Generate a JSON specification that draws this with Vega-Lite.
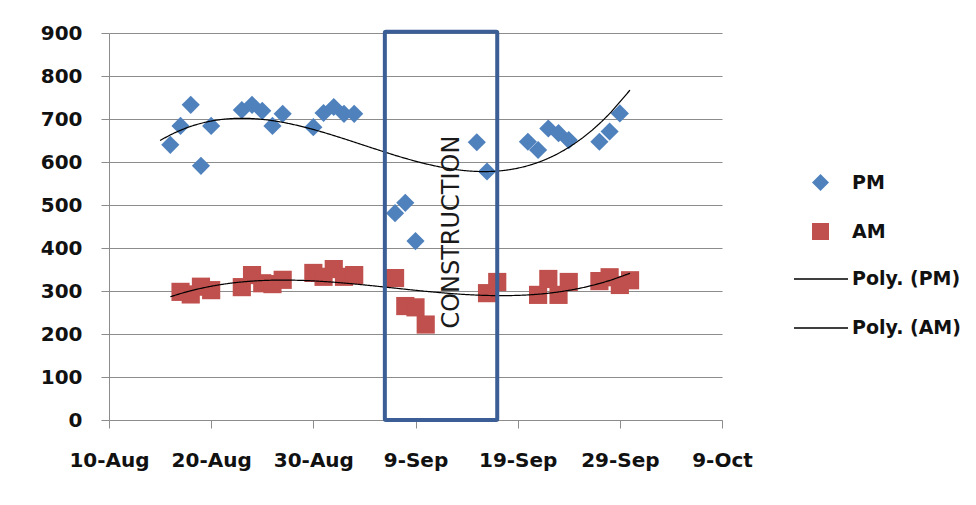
{
  "$schema": "https://vega.github.io/schema/vega-lite/v6.json",
  "width": 613,
  "height": 387,
  "autosize": "none",
  "padding": {"left": 109, "top": 33, "right": 254, "bottom": 85},
  "background": "white",
  "config": {
    "view": {"stroke": null},
    "font": "DejaVu Sans",
    "axis": {
      "labelFont": "DejaVu Sans",
      "labelFontSize": 20,
      "labelFontWeight": "bold",
      "labelColor": "#111111",
      "domainColor": "#8c8c8c",
      "tickColor": "#8c8c8c",
      "gridColor": "#8c8c8c",
      "tickSize": 8,
      "domainWidth": 1,
      "gridWidth": 1,
      "labelOverlap": false,
      "labelBound": false,
      "labelFlush": false
    },
    "legend": {
      "labelFont": "DejaVu Sans",
      "labelFontSize": 19,
      "labelFontWeight": "bold",
      "labelColor": "#111111",
      "padding": 0
    }
  },
  "data": {
    "values": [
      {"date": "2010-08-16", "value": 640, "series": "PM"},
      {"date": "2010-08-17", "value": 684, "series": "PM"},
      {"date": "2010-08-18", "value": 733, "series": "PM"},
      {"date": "2010-08-19", "value": 591, "series": "PM"},
      {"date": "2010-08-20", "value": 684, "series": "PM"},
      {"date": "2010-08-23", "value": 721, "series": "PM"},
      {"date": "2010-08-24", "value": 733, "series": "PM"},
      {"date": "2010-08-25", "value": 719, "series": "PM"},
      {"date": "2010-08-26", "value": 684, "series": "PM"},
      {"date": "2010-08-27", "value": 712, "series": "PM"},
      {"date": "2010-08-30", "value": 681, "series": "PM"},
      {"date": "2010-08-31", "value": 714, "series": "PM"},
      {"date": "2010-09-01", "value": 728, "series": "PM"},
      {"date": "2010-09-02", "value": 712, "series": "PM"},
      {"date": "2010-09-03", "value": 712, "series": "PM"},
      {"date": "2010-09-07", "value": 481, "series": "PM"},
      {"date": "2010-09-08", "value": 505, "series": "PM"},
      {"date": "2010-09-09", "value": 416, "series": "PM"},
      {"date": "2010-09-15", "value": 646, "series": "PM"},
      {"date": "2010-09-16", "value": 578, "series": "PM"},
      {"date": "2010-09-20", "value": 647, "series": "PM"},
      {"date": "2010-09-21", "value": 628, "series": "PM"},
      {"date": "2010-09-22", "value": 678, "series": "PM"},
      {"date": "2010-09-23", "value": 667, "series": "PM"},
      {"date": "2010-09-24", "value": 651, "series": "PM"},
      {"date": "2010-09-27", "value": 647, "series": "PM"},
      {"date": "2010-09-28", "value": 671, "series": "PM"},
      {"date": "2010-09-29", "value": 713, "series": "PM"},
      {"date": "2010-08-17", "value": 298, "series": "AM"},
      {"date": "2010-08-18", "value": 292, "series": "AM"},
      {"date": "2010-08-19", "value": 310, "series": "AM"},
      {"date": "2010-08-20", "value": 302, "series": "AM"},
      {"date": "2010-08-23", "value": 309, "series": "AM"},
      {"date": "2010-08-24", "value": 337, "series": "AM"},
      {"date": "2010-08-25", "value": 318, "series": "AM"},
      {"date": "2010-08-26", "value": 316, "series": "AM"},
      {"date": "2010-08-27", "value": 326, "series": "AM"},
      {"date": "2010-08-30", "value": 342, "series": "AM"},
      {"date": "2010-08-31", "value": 333, "series": "AM"},
      {"date": "2010-09-01", "value": 351, "series": "AM"},
      {"date": "2010-09-02", "value": 333, "series": "AM"},
      {"date": "2010-09-03", "value": 337, "series": "AM"},
      {"date": "2010-09-07", "value": 330, "series": "AM"},
      {"date": "2010-09-08", "value": 265, "series": "AM"},
      {"date": "2010-09-09", "value": 262, "series": "AM"},
      {"date": "2010-09-10", "value": 222, "series": "AM"},
      {"date": "2010-09-16", "value": 295, "series": "AM"},
      {"date": "2010-09-17", "value": 321, "series": "AM"},
      {"date": "2010-09-21", "value": 291, "series": "AM"},
      {"date": "2010-09-22", "value": 328, "series": "AM"},
      {"date": "2010-09-23", "value": 291, "series": "AM"},
      {"date": "2010-09-24", "value": 321, "series": "AM"},
      {"date": "2010-09-27", "value": 323, "series": "AM"},
      {"date": "2010-09-28", "value": 332, "series": "AM"},
      {"date": "2010-09-29", "value": 314, "series": "AM"},
      {"date": "2010-09-30", "value": 325, "series": "AM"}
    ],
    "format": {"parse": {"date": "utc:'%Y-%m-%d'"}}
  },
  "layer": [
    {
      "mark": {"type": "point", "filled": true, "opacity": 1, "size": 330},
      "encoding": {
        "x": {
          "field": "date", "type": "temporal", "title": null,
          "scale": {"type": "utc", "domain": [{"year": 2010, "month": 8, "date": 10, "utc": true}, {"year": 2010, "month": 10, "date": 9, "utc": true}]},
          "axis": {
            "grid": false,
            "format": "%-d-%b",
            "labelPadding": 22,
            "values": [
              {"year": 2010, "month": 8, "date": 10, "utc": true},
              {"year": 2010, "month": 8, "date": 20, "utc": true},
              {"year": 2010, "month": 8, "date": 30, "utc": true},
              {"year": 2010, "month": 9, "date": 9, "utc": true},
              {"year": 2010, "month": 9, "date": 19, "utc": true},
              {"year": 2010, "month": 9, "date": 29, "utc": true},
              {"year": 2010, "month": 10, "date": 9, "utc": true}
            ]
          }
        },
        "y": {
          "field": "value", "type": "quantitative", "title": null,
          "scale": {"domain": [0, 900], "nice": false},
          "axis": {"grid": true, "values": [0, 100, 200, 300, 400, 500, 600, 700, 800, 900], "labelPadding": 19}
        },
        "color": {
          "field": "series", "type": "nominal",
          "scale": {"domain": ["PM", "AM"], "range": ["#4F81BD", "#C0504D"]},
          "legend": {
            "title": null,
            "orient": "none",
            "legendX": 702,
            "legendY": 140,
            "symbolSize": 290,
            "symbolStrokeWidth": 0,
            "labelOffset": 22,
            "rowPadding": 29
          }
        },
        "shape": {
          "field": "series", "type": "nominal",
          "scale": {"domain": ["PM", "AM"], "range": ["diamond", "square"]}
        }
      }
    },
    {
      "transform": [
        {"filter": "datum.series === 'PM'"},
        {"regression": "value", "on": "date", "method": "poly", "order": 3, "extent": [1281830400000, 1285804800000]}
      ],
      "mark": {"type": "line", "color": "#000000", "strokeWidth": 1.2},
      "encoding": {
        "x": {"field": "date", "type": "temporal", "title": null},
        "y": {"field": "value", "type": "quantitative", "title": null},
        "strokeDash": {
          "datum": "Poly. (PM)",
          "scale": {"domain": ["Poly. (PM)", "Poly. (AM)"], "range": [[1, 0], [1, 0]]},
          "legend": {
            "title": null,
            "orient": "none",
            "legendX": 684,
            "legendY": 218,
            "symbolType": "stroke",
            "symbolSize": 2916,
            "symbolStrokeWidth": 1.3,
            "symbolStrokeColor": "#000000",
            "labelOffset": 3,
            "rowPadding": 11
          }
        }
      }
    },
    {
      "transform": [
        {"filter": "datum.series === 'AM'"},
        {"regression": "value", "on": "date", "method": "poly", "order": 3, "extent": [1281916800000, 1285804800000]}
      ],
      "mark": {"type": "line", "color": "#000000", "strokeWidth": 1.2},
      "encoding": {
        "x": {"field": "date", "type": "temporal", "title": null},
        "y": {"field": "value", "type": "quantitative", "title": null},
        "strokeDash": {"datum": "Poly. (AM)"}
      }
    },
    {
      "data": {"values": [{"start": "2010-09-06", "end": "2010-09-17", "low": 0, "high": 903}]},
      "mark": {"type": "rect", "fill": null, "fillOpacity": 0, "stroke": "#3A5E95", "strokeWidth": 4, "cornerRadius": 1},
      "encoding": {
        "x": {"field": "start", "type": "temporal", "title": null},
        "x2": {"field": "end"},
        "y": {"field": "low", "type": "quantitative", "title": null},
        "y2": {"field": "high"}
      }
    },
    {
      "data": {"values": [{"when": "2010-09-12T13:00:00Z", "level": 437, "label": "CONSTRUCTION"}]},
      "mark": {"type": "text", "angle": 270, "font": "DejaVu Sans", "fontSize": 24, "color": "#1a1a1a", "align": "center", "baseline": "middle"},
      "encoding": {
        "x": {"field": "when", "type": "temporal", "title": null},
        "y": {"field": "level", "type": "quantitative", "title": null},
        "text": {"field": "label"}
      }
    }
  ]
}
